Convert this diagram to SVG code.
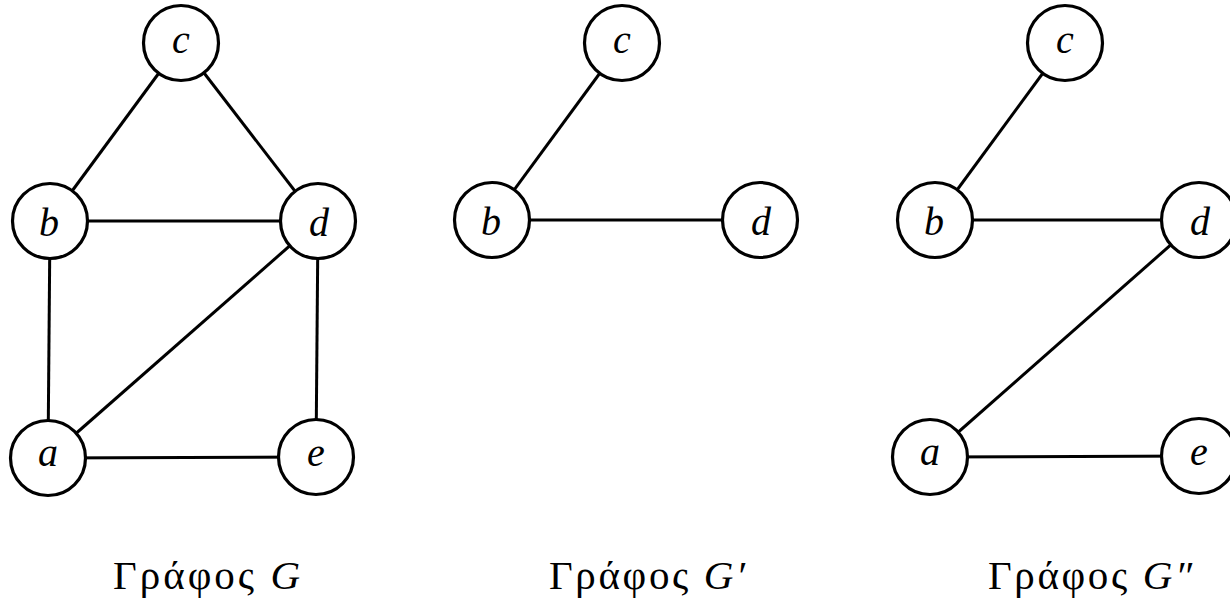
<svg xmlns="http://www.w3.org/2000/svg" width="1230" height="603" viewBox="0 0 1230 603">
  <style>
    .edge { stroke: #000; stroke-width: 3; stroke-linecap: butt; fill: none; }
    .node circle { fill: #fff; stroke: #000; stroke-width: 3.2; }
    .node text { font-family: "Liberation Serif", "DejaVu Serif", serif; font-style: italic; font-size: 40px; text-anchor: middle; fill: #000; }
    .caption { font-family: "Liberation Serif", "DejaVu Serif", serif; font-size: 41px; fill: #000; }
    .caption .m { font-style: italic; }
  </style>
  <rect width="1230" height="603" fill="#fff"/>

  <!-- edges of all three graphs -->
  <g id="connectors">
    <!-- G -->
    <line class="edge" x1="181" y1="43" x2="50" y2="221"/>
    <line class="edge" x1="181" y1="43" x2="318" y2="221"/>
    <line class="edge" x1="50" y1="221" x2="318" y2="221"/>
    <line class="edge" x1="50" y1="221" x2="48" y2="458"/>
    <line class="edge" x1="318" y1="221" x2="48" y2="458"/>
    <line class="edge" x1="318" y1="221" x2="316" y2="457"/>
    <line class="edge" x1="48" y1="458" x2="316" y2="457"/>
    <!-- G' -->
    <line class="edge" x1="622" y1="43" x2="492" y2="220"/>
    <line class="edge" x1="492" y1="220" x2="760" y2="220"/>
    <!-- G'' -->
    <line class="edge" x1="1065" y1="43" x2="935" y2="220"/>
    <line class="edge" x1="935" y1="220" x2="1199" y2="220"/>
    <line class="edge" x1="1199" y1="220" x2="930" y2="457"/>
    <line class="edge" x1="930" y1="457" x2="1199" y2="456"/>
  </g>

  <!-- graph G -->
  <g id="G-c" class="node"><circle cx="181" cy="43" r="37.5"/><text x="181" y="53">c</text></g>
  <g id="G-b" class="node"><circle cx="50" cy="221" r="37.5"/><text x="49" y="236">b</text></g>
  <g id="G-d" class="node"><circle cx="318" cy="221" r="37.5"/><text x="319" y="236">d</text></g>
  <g id="G-a" class="node"><circle cx="48" cy="458" r="37.5"/><text x="48" y="466">a</text></g>
  <g id="G-e" class="node"><circle cx="316" cy="457" r="37.5"/><text x="316" y="466">e</text></g>

  <!-- graph G' -->
  <g id="G1-c" class="node"><circle cx="622" cy="43" r="37.5"/><text x="622" y="53">c</text></g>
  <g id="G1-b" class="node"><circle cx="492" cy="220" r="37.5"/><text x="491" y="235">b</text></g>
  <g id="G1-d" class="node"><circle cx="760" cy="220" r="37.5"/><text x="761" y="235">d</text></g>

  <!-- graph G'' -->
  <g id="G2-c" class="node"><circle cx="1065" cy="43" r="37.5"/><text x="1065" y="53">c</text></g>
  <g id="G2-b" class="node"><circle cx="935" cy="220" r="37.5"/><text x="934" y="235">b</text></g>
  <g id="G2-d" class="node"><circle cx="1199" cy="220" r="37.5"/><text x="1200" y="235">d</text></g>
  <g id="G2-a" class="node"><circle cx="930" cy="457" r="37.5"/><text x="930" y="465">a</text></g>
  <g id="G2-e" class="node"><circle cx="1199" cy="456" r="37.5"/><text x="1199" y="465">e</text></g>

  <!-- captions -->
  <g id="captions">
    <text class="caption" x="113" y="589" textLength="187" lengthAdjust="spacing">Γράφος <tspan class="m">G</tspan></text>
    <text class="caption" x="549" y="589" textLength="196" lengthAdjust="spacing">Γράφος <tspan class="m">G′</tspan></text>
    <text class="caption" x="988" y="589" textLength="204" lengthAdjust="spacing">Γράφος <tspan class="m">G″</tspan></text>
  </g>
</svg>
